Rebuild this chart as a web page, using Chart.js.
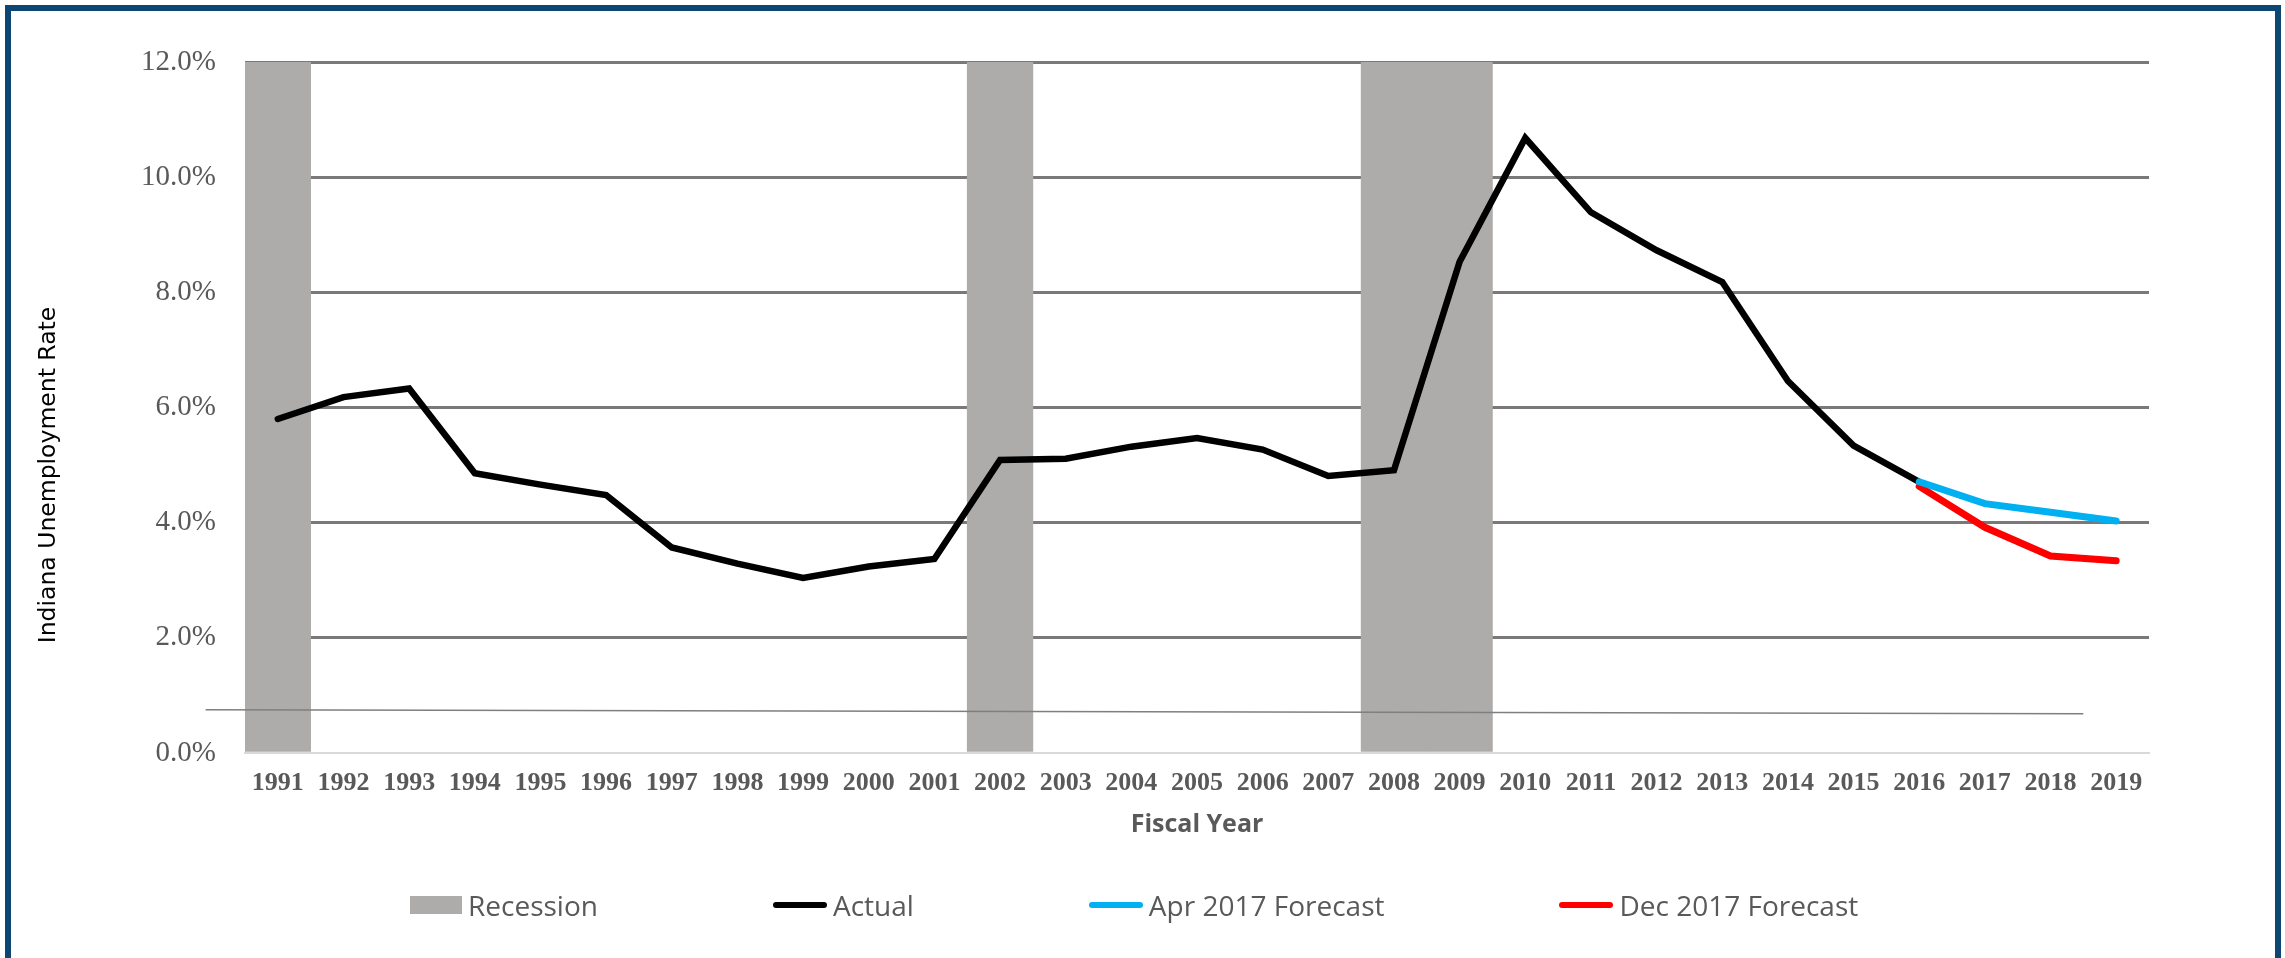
<!DOCTYPE html>
<html>
<head>
<meta charset="utf-8">
<script src="https://cdn.jsdelivr.net/npm/chart.js@4.4.0/dist/chart.umd.min.js"></script>
<style>
    html, body { margin: 0; padding: 0; background: #fff; overflow: hidden; }
    #wrap { position: relative; width: 2285px; height: 958px; }
    #frame { position: absolute; left: 5px; top: 5px; width: 2276px; height: 1000px; box-sizing: border-box; border: 6px solid #0d4672; }
    #ytitle { position: absolute; left: 47px; top: 475px; transform: translate(-50%, -50%) rotate(-90deg);
              font: 23.5px 'DejaVu Sans', sans-serif; color: #000; white-space: nowrap; }
    #legend { position: absolute; left: 410px; top: 905px; transform: translateY(-50%); display: flex; align-items: center; gap: 175px;
              font: 28px 'Open Sans', sans-serif; color: #595959; white-space: nowrap; }
    .item { display: flex; align-items: center; gap: 6px; }
    .box { width: 52px; height: 18px; }
    .ln { width: 54px; height: 6px; border-radius: 3px; }
</style>
</head>
<body>
<div id="wrap">
    <div id="frame"></div>
    <canvas id="chart"></canvas>
    <div id="ytitle">Indiana Unemployment Rate</div>
    <div id="legend"></div>
</div>
<script>
// Indiana unemployment rate by fiscal year (%)
const years = ['1991', '1992', '1993', '1994', '1995', '1996', '1997', '1998', '1999', '2000',
               '2001', '2002', '2003', '2004', '2005', '2006', '2007', '2008', '2009', '2010',
               '2011', '2012', '2013', '2014', '2015', '2016', '2017', '2018', '2019'];

// recession years shaded to the top of the axis
const recession = [12, null, null, null, null, null, null, null, null, null,
                   null, 12, null, null, null, null, null, 12, 12, null,
                   null, null, null, null, null, null, null, null, null];

const actual = [5.80, 6.18, 6.33, 4.86, 4.66, 4.48, 3.57, 3.29, 3.04, 3.24,
                3.37, 5.09, 5.11, 5.32, 5.47, 5.27, 4.81, 4.91, 8.53, 10.68,
                9.39, 8.73, 8.18, 6.46, 5.34, 4.71, null, null, null];

const apr2017 = [null, null, null, null, null, null, null, null, null, null,
                 null, null, null, null, null, null, null, null, null, null,
                 null, null, null, null, null, 4.71, 4.33, 4.18, 4.03];

const dec2017 = [null, null, null, null, null, null, null, null, null, null,
                 null, null, null, null, null, null, null, null, null, null,
                 null, null, null, null, null, 4.63, 3.92, 3.42, 3.34];

// thin stray rule that sits across the lower part of the original plot
const strayX = [1989.9, 2018.5];
const strayY = [0.75, 0.68];

const yMin = 0, yMax = 12, yStep = 2;

const COLORS = { recession: '#aeabab', actual: '#000000', apr: '#00b0f0', dec: '#ff0000' };
const TEXT = '#595959';

const legendItems = [
    { label: 'Recession', color: COLORS.recession, kind: 'box' },
    { label: 'Actual', color: COLORS.actual, kind: 'ln' },
    { label: 'Apr 2017 Forecast', color: COLORS.apr, kind: 'ln' },
    { label: 'Dec 2017 Forecast', color: COLORS.dec, kind: 'ln' }
];

const legendEl = document.getElementById('legend');
legendItems.forEach(it => {
    const item = document.createElement('div');
    item.className = 'item';
    const mark = document.createElement('span');
    mark.className = it.kind;
    mark.style.background = it.color;
    const txt = document.createElement('span');
    txt.textContent = it.label;
    item.appendChild(mark);
    item.appendChild(txt);
    legendEl.appendChild(item);
});

const lineDefaults = {
    type: 'line',
    borderWidth: 6.5,
    pointRadius: 0,
    pointHoverRadius: 0,
    tension: 0,
    fill: false,
    borderCapStyle: 'round',
    spanGaps: false
};

const ctx = document.getElementById('chart').getContext('2d');
const chart = new Chart(ctx, {
    data: {
        labels: years,
        datasets: [
            { ...lineDefaults, label: 'Apr 2017 Forecast', data: apr2017, borderColor: COLORS.apr, borderWidth: 7, order: 1 },
            { ...lineDefaults, label: 'Dec 2017 Forecast', data: dec2017, borderColor: COLORS.dec, borderWidth: 7, order: 1 },
            { ...lineDefaults, label: 'Actual', data: actual, borderColor: COLORS.actual, order: 2 },
            {
                type: 'line',
                label: 'stray',
                data: strayX.map((x, i) => ({ x: x, y: strayY[i] })),
                xAxisID: 'x2',
                borderColor: '#7f7f7f',
                borderWidth: 1.5,
                pointRadius: 0,
                clip: false,
                order: 5
            },
            {
                type: 'bar',
                label: 'Recession',
                data: recession,
                backgroundColor: COLORS.recession,
                borderWidth: 0,
                grouped: false,
                barPercentage: 1.0,
                categoryPercentage: 1.0,
                order: 10
            }
        ]
    },
    options: {
        responsive: true,
        maintainAspectRatio: false,
        animation: false,
        layout: { padding: { left: 0, top: 62, right: 136, bottom: 110 } },
        plugins: {
            legend: { display: false },
            tooltip: { enabled: false }
        },
        scales: {
            x: {
                type: 'category',
                offset: true,
                grid: { display: false, drawTicks: false },
                border: { display: true, color: '#d9d9d9', width: 2 },
                ticks: {
                    color: TEXT,
                    font: { family: "'Liberation Serif', serif", size: 26, weight: 'bold' },
                    padding: 15,
                    maxRotation: 0,
                    autoSkip: false
                },
                title: {
                    display: true,
                    text: 'Fiscal Year',
                    color: TEXT,
                    font: { family: "'Open Sans', sans-serif", size: 25, weight: 'bold' },
                    padding: { top: 4, bottom: 8 }
                },
                afterFit: s => { s.height = 95; }
            },
            x2: { type: 'linear', display: false, min: 1990.5, max: 2019.5 },
            y: {
                min: yMin,
                max: yMax,
                ticks: {
                    stepSize: yStep,
                    color: TEXT,
                    font: { family: "'Liberation Serif', serif", size: 29 },
                    padding: 29,
                    callback: v => v.toFixed(1) + '%'
                },
                grid: {
                    color: c => (c.tick && c.tick.value === 0) ? 'rgba(0,0,0,0)' : '#7a7878',
                    lineWidth: 3,
                    drawTicks: false
                },
                border: { display: false },
                afterFit: s => { s.width = 245; }
            }
        }
    }
});
</script>
</body>
</html>
